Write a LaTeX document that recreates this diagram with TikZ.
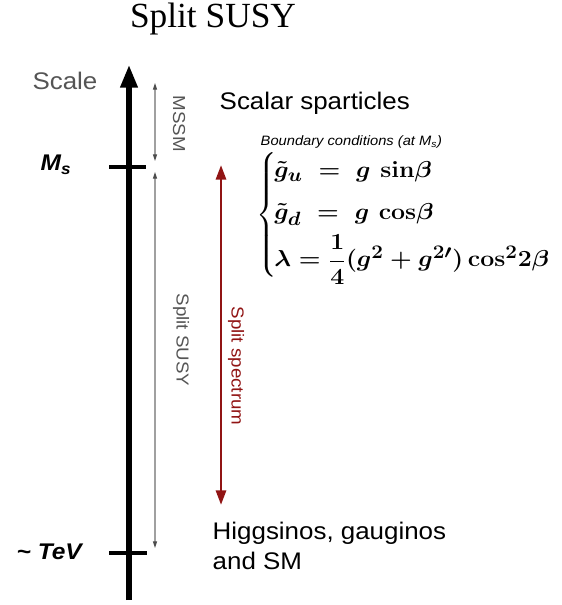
\documentclass[tikz,border=0pt]{standalone}
\usepackage{amsmath}
\usepackage{graphicx}
\usepackage[no-math]{fontspec}
\setmainfont{Liberation Serif}
\setsansfont{Liberation Sans}[FakeStretch=1.08]
\usetikzlibrary{arrows.meta}
\definecolor{darkred}{RGB}{145,20,20}
\definecolor{txtgray}{RGB}{85,85,85}
\definecolor{thingray}{RGB}{160,160,160}
\newcommand{\wideq}[1]{\scalebox{1.08}[1]{#1}}
\begin{document}
\begin{tikzpicture}[x=0.75pt,y=-0.75pt,
  sans/.style={font=\sffamily\fontsize{18}{22.5}\selectfont, text=black},
  rot/.style={font=\sffamily\fontsize{13}{15}\selectfont, text=txtgray, rotate=-90},
  thinarrow/.style={draw=thingray, line width=0.8pt, {Triangle[length=5pt,width=3pt,color=black!70]}-{Triangle[length=5pt,width=3pt,color=black!70]}},
  tick/.style={line width=3pt},
  lbl/.style={font=\sffamily\bfseries\itshape\fontsize{17}{20}\selectfont},
  eq/.style={anchor=base west, inner sep=0pt, font=\fontsize{19}{22}\selectfont\boldmath}]
\useasboundingbox (0,0) rectangle (561,605);
% title
\node[font=\fontsize{26.5}{30}\selectfont, anchor=base] (title) at (213,28) {Split SUSY};
% main axis
\coordinate (axb) at (129,600);
\coordinate (axt) at (129,65);
\draw[line width=3.8pt, -{Triangle[length=17pt,width=12.5pt]}] (axb) -- (axt);
% ticks
\coordinate (msl) at (109,167); \coordinate (msr) at (146,167);
\coordinate (tvl) at (109,553); \coordinate (tvr) at (147,553);
\draw[tick] (msl) -- (msr);
\draw[tick] (tvl) -- (tvr);
% left labels
\node[sans, text=txtgray, anchor=base] (scale) at (65,90) {Scale};
\node[lbl, anchor=base west] (ms) at (36,171) {M\textsubscript{s}};
\node[lbl, anchor=base west] (tev) at (12,559) {\textasciitilde{} TeV};
% thin arrows
\coordinate (m1) at (155,83); \coordinate (m2) at (155,161);
\coordinate (s1) at (155,172); \coordinate (s2) at (155,548);
\draw[thinarrow] (m1) -- (m2);
\draw[thinarrow] (s1) -- (s2);
\node[rot] (mssm) at (179,124) {MSSM};
\node[rot] (ssusy) at (181,340) {Split SUSY};
% red arrow
\coordinate (r1) at (221,165); \coordinate (r2) at (221,505);
\draw[darkred, line width=2.2pt, {Triangle[length=11pt,width=7.5pt]}-{Triangle[length=11pt,width=7.5pt]}] (r1) -- (r2);
\node[rot, text=darkred] (spec) at (236,366) {Split spectrum};
% right texts
\node[sans, anchor=base west] (scalar) at (215,110) {Scalar sparticles};
\node[font=\sffamily\itshape\fontsize{10.2}{12}\selectfont, anchor=base west] (bc) at (256,146) {Boundary conditions (at M\textsubscript{s})};
\node[anchor=west, inner sep=0pt, font=\fontsize{18}{22}\selectfont] (brace) at (256,215) {\nulldelimiterspace=0pt$\left\{\vrule height 41pt depth 41pt width 0pt\right.$};
\node[eq] (e1) at (274,178) {\wideq{$\tilde g_u \;=\; g\,\sin\!\beta$}};
\node[eq] (e2) at (274,220) {\wideq{$\tilde g_d \;=\; g\,\cos\!\beta$}};
\node[eq] (e3) at (274,267) {\wideq{$\lambda=\dfrac14(g^2+g^{2\prime})\cos^2\!2\beta$}};
\node[sans, anchor=base west, align=left] (higgs) at (208,569) {Higgsinos, gauginos\\and SM};
\end{tikzpicture}
\end{document}
